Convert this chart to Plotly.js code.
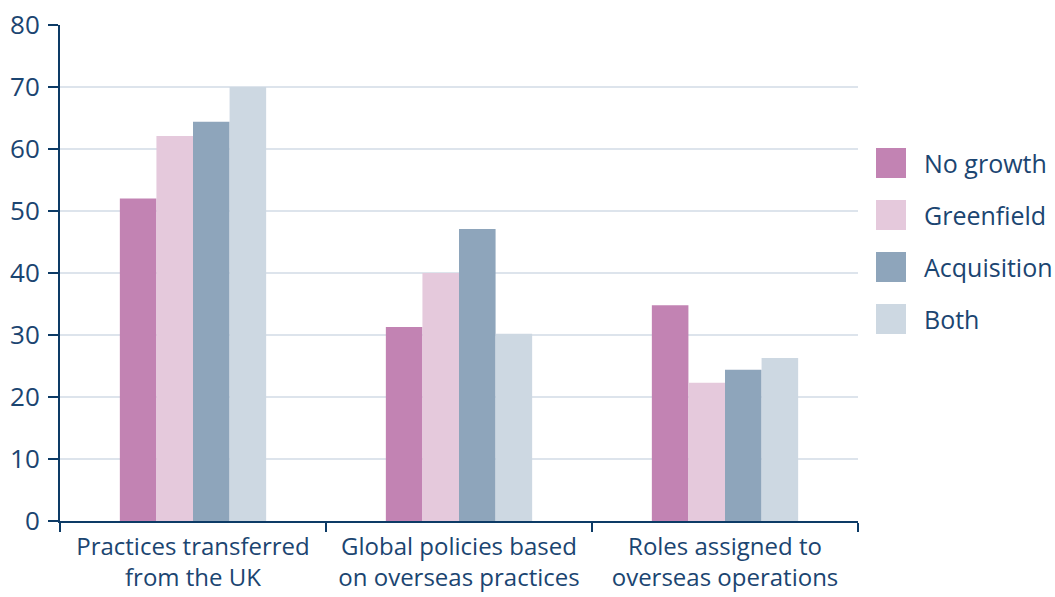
<!DOCTYPE html>
<html>
<head>
<meta charset="utf-8">
<script src="https://cdn.plot.ly/plotly-3.0.1.min.js"></script>
<style>
  html, body { margin: 0; padding: 0; background: #ffffff; }
  #chart { width: 1055px; height: 597px; }
</style>
</head>
<body>
<div id="chart"></div>
<script>
// Categories along the x axis (two-line labels)
const categories = [
  'Practices transferred<br>from the UK',
  'Global policies based<br>on overseas practices',
  'Roles assigned to<br>overseas operations'
];

// Series names and colours
const seriesNames = ['No growth', 'Greenfield', 'Acquisition', 'Both'];
const seriesColors = ['#c283b3', '#e5c9dc', '#8ea5bb', '#cdd8e2'];

// Values per series (%)
const noGrowth    = [52, 31.3, 34.8];
const greenfield  = [62.1, 40, 22.3];
const acquisition = [64.4, 47.1, 24.4];
const both        = [70, 30.2, 26.3];

const seriesValues = [noGrowth, greenfield, acquisition, both];

// Y-axis ticks
const yTicks = [0, 10, 20, 30, 40, 50, 60, 70, 80];

const navy = '#0d3b66';
const textColor = '#1b4571';
const fontFamily = '"Open Sans", "Noto Sans", sans-serif';

const traces = seriesNames.map((name, i) => ({
  type: 'bar',
  name: name,
  x: categories,
  y: seriesValues[i],
  marker: { color: seriesColors[i], line: { width: 0 } },
  hoverinfo: 'x+y+name'
}));

// Custom legend with large square swatches on the right
const legendX0 = 876, legendTop = 148, swatch = 30, step = 52;
const W = 1055, H = 597;
const shapes = [];
const annotations = [];
seriesNames.forEach((name, i) => {
  const y0 = legendTop + i * step;
  shapes.push({
    type: 'rect', xref: 'paper', yref: 'paper', layer: 'above',
    x0: (legendX0 - 60) / 798, x1: (legendX0 + swatch - 60) / 798,
    y0: (521 - y0) / 496, y1: (521 - y0 - swatch) / 496,
    fillcolor: seriesColors[i], line: { width: 0 }
  });
  annotations.push({
    xref: 'paper', yref: 'paper',
    x: (922 - 60) / 798, y: (521 - y0 - swatch / 2) / 496,
    xanchor: 'left', yanchor: 'middle', showarrow: false,
    text: name, font: { family: fontFamily, size: 25, color: textColor }
  });
});

const layout = {
  width: W, height: H,
  margin: { l: 60, r: 197, t: 25, b: 76, pad: 0 },
  paper_bgcolor: '#ffffff', plot_bgcolor: '#ffffff',
  showlegend: false,
  barmode: 'group',
  bargap: 0.45,
  bargroupgap: 0,
  font: { family: fontFamily, color: textColor },
  xaxis: {
    type: 'category',
    tickson: 'boundaries',
    ticks: 'outside', ticklen: 9, tickwidth: 2, tickcolor: navy,
    ticklabelstandoff: 3,
    showline: true, linecolor: navy, linewidth: 2,
    showgrid: false, zeroline: false,
    tickfont: { family: fontFamily, size: 24, color: textColor },
    fixedrange: true
  },
  yaxis: {
    range: [0, 80],
    tickvals: yTicks,
    ticktext: yTicks.map(String),
    ticks: 'outside', ticklen: 10, tickwidth: 2, tickcolor: navy,
    ticklabelstandoff: 3,
    showline: true, linecolor: navy, linewidth: 2,
    showgrid: true, gridcolor: '#dde4ec', gridwidth: 2,
    zeroline: false,
    tickfont: { family: fontFamily, size: 26, color: textColor },
    fixedrange: true
  },
  shapes: shapes,
  annotations: annotations
};

Plotly.newPlot('chart', traces, layout, { displayModeBar: false, staticPlot: true });
</script>
</body>
</html>
